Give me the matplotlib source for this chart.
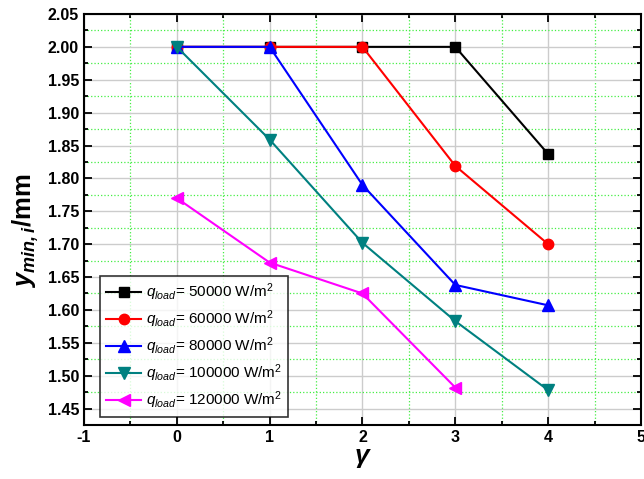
import matplotlib.pyplot as plt
from matplotlib.ticker import MultipleLocator
import numpy as np

plt.rcParams['font.family'] = ['Liberation Sans', 'DejaVu Sans']
plt.rcParams['mathtext.fontset'] = 'custom'
plt.rcParams['mathtext.rm'] = 'Liberation Sans'
plt.rcParams['mathtext.it'] = 'Liberation Sans:italic'
plt.rcParams['mathtext.bf'] = 'Liberation Sans:bold'
plt.rcParams['mathtext.bfit'] = 'Liberation Sans:italic:bold'
plt.rcParams['axes.unicode_minus'] = False

gamma = [0, 1, 2, 3, 4]
y_50k = [2.00, 2.00, 2.00, 2.00, 1.837]
y_60k = [2.00, 2.00, 2.00, 1.819, 1.70]
y_80k = [2.00, 2.00, 1.79, 1.638, 1.607]
y_100k = [2.00, 1.859, 1.702, 1.583, 1.478]
gamma_120k = [0, 1, 2, 3]
y_120k = [1.77, 1.672, 1.625, 1.482]

loads = ['50000', '60000', '80000', '100000', '120000']

fig = plt.figure(figsize=(6.44, 4.79), dpi=100)
ax = fig.add_axes([0.1304, 0.1127, 0.8649, 0.8581])

series = [
    (gamma, y_50k, 'black', 's', 6.5),
    (gamma, y_60k, 'red', 'o', 7.5),
    (gamma, y_80k, 'blue', '^', 8),
    (gamma, y_100k, '#008080', 'v', 8),
    (gamma_120k, y_120k, 'magenta', '<', 8),
]
for (x, y, c, m, ms), q in zip(series, loads):
    ax.plot(x, y, color=c, marker=m, markersize=ms, linewidth=1.5,
            label=r'$q_{load}$= ' + q + r' W/m$^2$')

ax.set_xlim(-1, 5)
ax.set_ylim(1.425, 2.05)
ax.xaxis.set_major_locator(MultipleLocator(1))
ax.xaxis.set_minor_locator(MultipleLocator(0.5))
ax.yaxis.set_major_locator(MultipleLocator(0.05))
ax.yaxis.set_minor_locator(MultipleLocator(0.025))
ax.yaxis.set_major_formatter(plt.FormatStrFormatter('%.2f'))

ax.grid(which='major', color='#cccccc', linewidth=1.0)
ax.grid(which='minor', color='#44ee44', linestyle=':', linewidth=0.9)
ax.set_axisbelow(True)

ax.tick_params(which='both', direction='in', top=True, right=True, width=1.3)
ax.tick_params(which='major', length=6, labelsize=11.5)
ax.tick_params(which='minor', length=3)
for lab in ax.get_xticklabels() + ax.get_yticklabels():
    lab.set_fontweight('bold')
for s in ax.spines.values():
    s.set_linewidth(1.5)

ax.set_xlabel(r'$\mathbfit{\gamma}$', fontsize=19, labelpad=1)
ax.set_ylabel(r'$\mathbfit{y}_{\mathbfit{min,i}}$/mm', fontsize=18.5,
              fontweight='bold')
ax.yaxis.set_label_coords(-0.078, 0.472)

leg = ax.legend(loc='lower left', bbox_to_anchor=(0.029, 0.019), fontsize=11,
                frameon=True, fancybox=False, edgecolor='black',
                borderaxespad=0, handlelength=2.3, handletextpad=0.3,
                labelspacing=0.35, borderpad=0.4)
leg.get_frame().set_linewidth(1.2)

fig.savefig('out.png', dpi=100)
